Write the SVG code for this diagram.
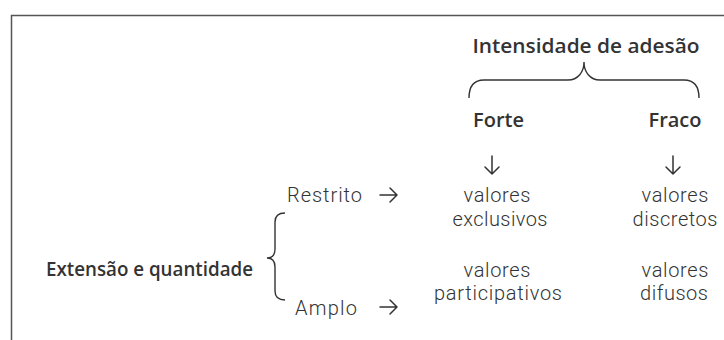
<svg xmlns="http://www.w3.org/2000/svg" width="724" height="340" viewBox="0 0 724 340">
<style>
.t{font-family:"Open Sans","Noto Sans","Liberation Sans",sans-serif;fill:#333;}
.l{font-family:Roboto,"Open Sans","Liberation Sans",sans-serif;font-weight:300;font-size:20px;}
.b{font-weight:600;font-size:20px;}
.c{text-anchor:middle;}
.br{fill:none;stroke:#333;stroke-width:1.4;}
.ar{fill:none;stroke:#333;stroke-width:1.5;stroke-linecap:round;stroke-linejoin:round;}
</style>
<rect width="724" height="340" fill="#fff"/>
<path d="M11.5 340V15.5H724" fill="none" stroke="#555" stroke-width="1.5"/>
<g id="intensidade"><text class="t b c" x="586" y="53" textLength="227" lengthAdjust="spacingAndGlyphs">Intensidade de adesão</text></g>
<g id="connectors">
<path class="br" d="M469 98C469 86 474 80 484 80H568C578 80 584 72 584 62C584 72 590 80 600 80H684C694 80 699 86 699 98"/>
<path class="br" d="M285 213C279 213 275 216 275 222V249C275 255 272 258 267 258C272 258 275 261 275 267V291C275 297 279 300 285 300"/>
<path class="ar" d="M492 156V174M485 167L492 174L499 167"/>
<path class="ar" d="M673 156V174M666 167L673 174L680 167"/>
<path class="ar" d="M380 195H397M390 188L397 195L390 202"/>
<path class="ar" d="M380 307H397M390 300L397 307L390 314"/>
</g>
<g id="forte"><text class="t b c" x="498.5" y="127">Forte</text></g>
<g id="fraco"><text class="t b c" x="675" y="127">Fraco</text></g>
<g id="restrito"><text class="t l" x="287" y="202" textLength="75">Restrito</text></g>
<g id="amplo"><text class="t l" x="295" y="315" textLength="62">Amplo</text></g>
<g id="extensao"><text class="t b" x="46" y="276" textLength="207" lengthAdjust="spacingAndGlyphs">Extensão e quantidade</text></g>
<g id="exclusivos"><text class="t l c"><tspan x="497" y="202" textLength="67">valores</tspan><tspan x="500" y="226" textLength="95">exclusivos</tspan></text></g>
<g id="discretos"><text class="t l c"><tspan x="675" y="202" textLength="67">valores</tspan><tspan x="675" y="226" textLength="85">discretos</tspan></text></g>
<g id="participativos"><text class="t l c"><tspan x="497" y="277" textLength="67">valores</tspan><tspan x="498" y="300" textLength="128">participativos</tspan></text></g>
<g id="difusos"><text class="t l c"><tspan x="675" y="277" textLength="67">valores</tspan><tspan x="674" y="300" textLength="68">difusos</tspan></text></g>
</svg>
